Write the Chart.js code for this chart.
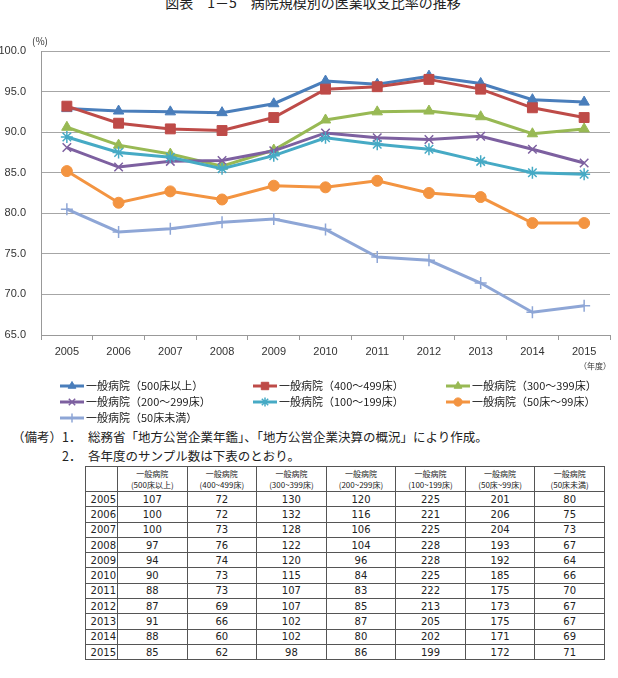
<!DOCTYPE html>
<html>
<head>
<meta charset="utf-8">
<script src="https://cdn.jsdelivr.net/npm/chart.js@4.4.1/dist/chart.umd.min.js"></script>
<style>
    html, body { margin: 0; padding: 0; background: #fff; }
    body { width: 618px; height: 678px; position: relative; overflow: hidden; font-family: 'Noto Sans CJK JP', sans-serif; color: #222; }
    #title { position: absolute; left: 4px; width: 618px; top: -8px; text-align: center; font-size: 14px; white-space: pre; }
    #chartBox { position: absolute; left: 0; top: 0; width: 618px; height: 425px; }
    .note { position: absolute; font-size: 12.5px; white-space: nowrap; line-height: 16px; }
    #samples { position: absolute; left: 85px; top: 466px; width: 520px; border-collapse: collapse; table-layout: fixed; }
    #samples td, #samples th { border: 1px solid #555; padding: 0; text-align: center; overflow: hidden; }
    #samples th { font-weight: normal; font-size: 8px; line-height: 11px; height: 24px; }
    #samples td { font-family: 'DejaVu Sans', sans-serif; font-size: 10px; height: 14.3px; line-height: 13px; }
    #samples td.yr { text-align: right; padding-right: 1px; }
</style>
</head>
<body>
<div id="title">図表　1－5　病院規模別の医業収支比率の推移</div>
<div id="chartBox"><canvas id="ratioChart" width="618" height="425"></canvas></div>

<div class="note" style="left:12px; top:429px;">（備考）</div>
<div class="note" style="left:62px; top:429px;">1．</div>
<div class="note" style="left:88px; top:429px;">総務省「地方公営企業年鑑」、「地方公営企業決算の概況」により作成。</div>
<div class="note" style="left:62px; top:448px;">2．</div>
<div class="note" style="left:88px; top:448px;">各年度のサンプル数は下表のとおり。</div>

<table id="samples"></table>

<script>
// years on the x axis
const years = ['2005', '2006', '2007', '2008', '2009', '2010', '2011', '2012', '2013', '2014', '2015'];

// series names (legend) and short names (table header second line)
const seriesNames = [
    '一般病院（500床以上）',
    '一般病院（400～499床）',
    '一般病院（300～399床）',
    '一般病院（200～299床）',
    '一般病院（100～199床）',
    '一般病院（50床～99床）',
    '一般病院（50床未満）'
];
const tableHeads = ['(500床以上)', '(400~499床)', '(300~399床)', '(200~299床)', '(100~199床)', '(50床~99床)', '(50床未満)'];

// 医業収支比率 (%)
const beds500 = [92.9, 92.6, 92.5, 92.4, 93.5, 96.3, 95.9, 96.9, 96.0, 94.0, 93.7];
const beds400 = [93.2, 91.1, 90.4, 90.2, 91.8, 95.3, 95.6, 96.5, 95.3, 93.0, 91.8];
const beds300 = [90.6, 88.4, 87.3, 85.8, 87.8, 91.5, 92.5, 92.6, 91.9, 89.8, 90.4];
const beds200 = [88.1, 85.7, 86.4, 86.5, 87.7, 89.9, 89.3, 89.1, 89.5, 87.9, 86.2];
const beds100 = [89.4, 87.5, 86.9, 85.5, 87.1, 89.3, 88.5, 87.9, 86.4, 85.0, 84.8];
const beds50 = [85.2, 81.3, 82.7, 81.7, 83.4, 83.2, 84.0, 82.5, 82.0, 78.8, 78.8];
const bedsUnder50 = [80.5, 77.7, 78.1, 78.9, 79.3, 78.0, 74.6, 74.2, 71.4, 67.8, 68.6];

// y axis ticks
const yTicks = [65, 70, 75, 80, 85, 90, 95, 100];

// sample counts per year (table)
const n500 = [107, 100, 100, 97, 94, 90, 88, 87, 91, 88, 85];
const n400 = [72, 72, 73, 76, 74, 73, 73, 69, 66, 60, 62];
const n300 = [130, 132, 128, 122, 120, 115, 107, 107, 102, 102, 98];
const n200 = [120, 116, 106, 104, 96, 84, 83, 85, 87, 80, 86];
const n100 = [225, 221, 225, 228, 228, 225, 222, 213, 205, 202, 199];
const n50 = [201, 206, 204, 193, 192, 185, 175, 173, 175, 171, 172];
const nUnder50 = [80, 75, 73, 67, 64, 66, 70, 67, 67, 69, 71];

const seriesValues = [beds500, beds400, beds300, beds200, beds100, beds50, bedsUnder50];
const sampleCounts = [n500, n400, n300, n200, n100, n50, nUnder50];

const colors = ['#4A7EBB', '#BE4B48', '#98B954', '#7D60A0', '#46AAC5', '#F39441', '#8EA6D6'];
const markers = ['triangle', 'rect', 'triangle', 'crossRot', 'star', 'circle', 'cross'];
const markerSizes = [6, 7, 6, 6, 6, 5.5, 6];

// build table
(function buildTable() {
    const table = document.getElementById('samples');
    let html = '<colgroup><col style="width:32px">';
    for (let i = 0; i < 7; i++) html += '<col>';
    html += '</colgroup><tr><th></th>';
    tableHeads.forEach(h => { html += '<th>一般病院<br>' + h + '</th>'; });
    html += '</tr>';
    years.forEach((y, r) => {
        html += '<tr><td class="yr">' + y + '</td>';
        sampleCounts.forEach(col => { html += '<td>' + col[r] + '</td>'; });
        html += '</tr>';
    });
    table.innerHTML = html;
})();

Chart.defaults.font.family = "'Liberation Sans', 'Noto Sans CJK JP', sans-serif";
Chart.defaults.color = '#333';

// legend grid + axis unit labels
const extrasPlugin = {
    id: 'extras',
    afterDraw(chart) {
        const ctx = chart.ctx;
        ctx.save();
        ctx.fillStyle = '#333';
        ctx.font = "10px 'Noto Sans CJK JP', sans-serif";
        ctx.textAlign = 'center';
        ctx.textBaseline = 'middle';
        ctx.fillText('(%)', 40, 41);
        ctx.font = "8px 'Noto Sans CJK JP', sans-serif";
        ctx.fillText('（年度）', 595, 366);

        const colX = [60, 253, 446];
        const rowY = [386, 402, 418];
        chart.data.datasets.forEach((ds, i) => {
            const x = colX[i % 3];
            const y = rowY[Math.floor(i / 3)];
            ctx.strokeStyle = ds.borderColor;
            ctx.fillStyle = ds.backgroundColor;
            ctx.lineWidth = 3;
            ctx.beginPath();
            ctx.moveTo(x, y);
            ctx.lineTo(x + 24, y);
            ctx.stroke();
            ctx.lineWidth = ds.pointBorderWidth;
            Chart.helpers.drawPoint(ctx, {
                pointStyle: ds.pointStyle,
                radius: ds.pointRadius * 0.75,
                rotation: 0,
                borderWidth: ds.pointBorderWidth
            }, x + 12, y);
            ctx.fillStyle = '#222';
            ctx.font = "11px 'Noto Sans CJK JP', sans-serif";
            ctx.textAlign = 'left';
            ctx.fillText(ds.label, x + 26, y);
        });
        ctx.restore();
    }
};

const ctx = document.getElementById('ratioChart').getContext('2d');
new Chart(ctx, {
    type: 'line',
    data: {
        labels: years,
        datasets: seriesValues.map((vals, i) => ({
            label: seriesNames[i],
            data: vals,
            borderColor: colors[i],
            backgroundColor: colors[i],
            pointBackgroundColor: colors[i],
            pointBorderColor: colors[i],
            borderWidth: 3,
            pointStyle: markers[i],
            pointRadius: markerSizes[i],
            pointBorderWidth: (markers[i] === 'crossRot' || markers[i] === 'star' || markers[i] === 'cross') ? 1.5 : 1,
            tension: 0,
            order: 6 - i
        }))
    },
    options: {
        responsive: false,
        animation: false,
        layout: { padding: { top: 51, right: 3, left: 0, bottom: 0 } },
        scales: {
            x: {
                offset: true,
                grid: {
                    display: true,
                    offset: true,
                    drawOnChartArea: false,
                    drawTicks: true,
                    tickLength: 5,
                    color: '#999'
                },
                border: { display: true, color: '#999' },
                ticks: { font: { size: 11 }, padding: 5, maxRotation: 0, color: '#333' },
                afterFit: scale => { scale.height = 90; }
            },
            y: {
                min: yTicks[0],
                max: yTicks[yTicks.length - 1],
                afterBuildTicks: scale => { scale.ticks = yTicks.map(v => ({ value: v })); },
                grid: { color: '#A6A6A6', drawTicks: false },
                border: { display: true, color: '#999' },
                ticks: {
                    font: { size: 11 },
                    padding: 15,
                    color: '#333',
                    callback: function(value) { return Number(value).toFixed(1); }
                },
                afterFit: scale => { scale.width = 41; }
            }
        },
        plugins: {
            legend: { display: false },
            tooltip: { enabled: false },
            title: { display: false }
        }
    },
    plugins: [extrasPlugin]
});
</script>
</body>
</html>
